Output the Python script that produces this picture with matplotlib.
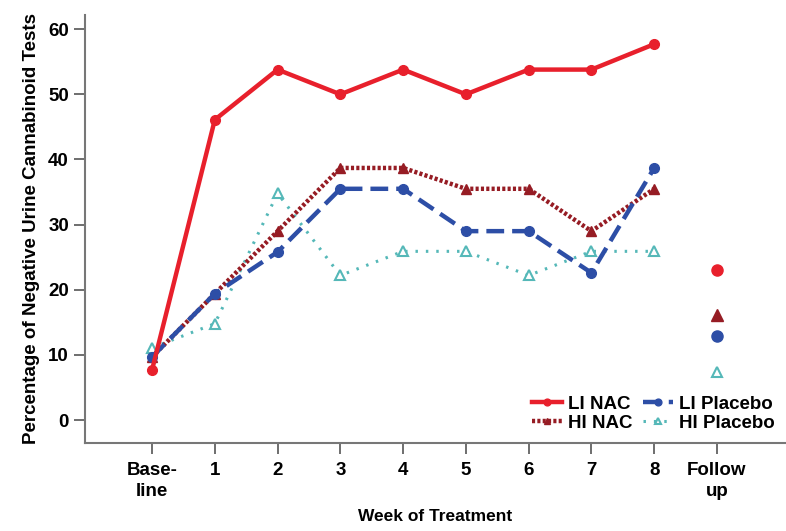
import matplotlib.pyplot as plt

plt.rcParams['font.family'] = ['Liberation Sans', 'DejaVu Sans']
plt.rcParams['font.weight'] = 'bold'

tick_labels = ['Base-\nline', '1', '2', '3', '4', '5', '6', '7', '8', 'Follow\nup']
weeks = list(range(9))
follow_x = 9

li_nac = [7.7, 46.1, 53.8, 50.0, 53.8, 50.0, 53.8, 53.8, 57.7]
hi_nac = [9.7, 19.4, 29.0, 38.7, 38.7, 35.5, 35.5, 29.0, 35.5]
li_placebo = [9.7, 19.4, 25.8, 35.5, 35.5, 29.0, 29.0, 22.6, 38.7]
hi_placebo = [11.1, 14.8, 34.8, 22.2, 25.9, 25.9, 22.2, 25.9, 25.9]

follow_li_nac = 23.1
follow_hi_nac = 16.1
follow_li_placebo = 12.9
follow_hi_placebo = 7.4

c_li_nac = '#e8202c'
c_hi_nac = '#961c24'
c_li_pl = '#2d4ea6'
c_hi_pl = '#55b8b8'

fig = plt.figure(figsize=(7.86, 5.31), dpi=100)
ax = fig.add_axes([0.108, 0.166, 0.892, 0.806])

ms = 7
ax.plot(weeks, li_nac, color=c_li_nac, lw=3.2, marker='o', ms=ms, label='LI NAC', zorder=4)
ax.plot(weeks, hi_nac, color=c_hi_nac, lw=3.2, ls=(0, (0.7, 0.5)), marker='^', ms=ms,
        label='HI NAC', zorder=3)
ax.plot(weeks, li_placebo, color=c_li_pl, lw=3.2, ls=(0, (4, 1.8)), marker='o', ms=ms,
        label='LI Placebo', zorder=3)
ax.plot(weeks, hi_placebo, color=c_hi_pl, lw=2.2, ls=(0, (0.8, 2.6)), marker='^', ms=ms,
        mfc='white', mec=c_hi_pl, mew=1.5, label='HI Placebo', zorder=2)

ax.plot(follow_x, follow_li_nac, 'o', color=c_li_nac, ms=ms + 1)
ax.plot(follow_x, follow_hi_nac, '^', color=c_hi_nac, ms=ms + 1)
ax.plot(follow_x, follow_li_placebo, 'o', color=c_li_pl, ms=ms + 1)
ax.plot(follow_x, follow_hi_placebo, '^', color=c_hi_pl, ms=ms, mfc='white', mew=1.5)

ax.set_xlim(-1.07, 10.1)
ax.set_ylim(-3.5, 62.2)
ax.set_xticks(range(10))
ax.set_xticklabels(tick_labels, fontsize=13.5, fontweight='bold', linespacing=1.3)
ax.set_yticks(range(0, 61, 10))
ax.tick_params(axis='both', labelsize=13.5, direction='out', length=8, width=1.2, color='#555555')
ax.tick_params(axis='x', pad=6)

for s in ['top', 'right']:
    ax.spines[s].set_visible(False)
for s in ['left', 'bottom']:
    ax.spines[s].set_color('#777777')
    ax.spines[s].set_linewidth(1.5)

ax.set_xlabel('Week of Treatment', fontsize=12.5, fontweight='bold', labelpad=6)
ax.set_ylabel('Percentage of Negative Urine Cannabinoid Tests', fontsize=13.5,
              fontweight='bold', labelpad=6)

ax.legend(loc='lower right', ncol=2, frameon=False, handlelength=1.6,
          handletextpad=0.3, columnspacing=0.6, labelspacing=0.1, borderaxespad=0.2,
          markerscale=0.7, prop={'weight': 'bold', 'size': 13.5})

fig.savefig('out.png', dpi=100)
